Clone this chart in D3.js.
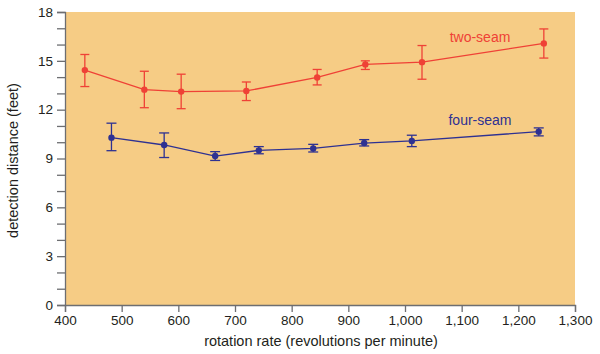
<!DOCTYPE html>
<html>
<head>
<meta charset="utf-8">
<script src="https://cdn.jsdelivr.net/npm/d3@7"></script>
<style>
  body { margin: 0; background: #fff; }
  text { font-family: "Liberation Sans", Arial, sans-serif; }
</style>
</head>
<body>
<div id="chart"></div>
<script>
// data
let twoSeamRpm  = [435, 540, 605, 720, 845, 930, 1030, 1245];
let twoSeamDist = [14.43, 13.23, 13.11, 13.15, 13.98, 14.78, 14.92, 16.07];
let twoSeamLow  = [13.42, 12.12, 12.06, 12.56, 13.52, 14.47, 13.87, 15.17];
let twoSeamHigh = [15.39, 14.36, 14.18, 13.70, 14.47, 15.00, 15.94, 16.96];

let fourSeamRpm  = [482, 575, 665, 742, 838, 928, 1012, 1236];
let fourSeamDist = [10.28, 9.83, 9.15, 9.50, 9.62, 9.95, 10.08, 10.65];
let fourSeamLow  = [9.48, 9.06, 8.88, 9.29, 9.40, 9.77, 9.73, 10.39];
let fourSeamHigh = [11.17, 10.57, 9.42, 9.73, 9.87, 10.16, 10.43, 10.88];

let xTicks = [400, 500, 600, 700, 800, 900, 1000, 1100, 1200, 1300];
let yTicks = [0, 3, 6, 9, 12, 15, 18];

let svgWidth = 600, svgHeight = 354;
let plotLeft = 65, plotRight = 575, plotTop = 12, plotBottom = 305;

let xScale = d3.scaleLinear().domain([400, 1300]).range([plotLeft, plotRight]);
let yScale = d3.scaleLinear().domain([0, 18]).range([plotBottom, plotTop]);

let svg = d3.select("#chart").append("svg")
  .attr("width", svgWidth)
  .attr("height", svgHeight);

// plot background
svg.append("rect")
  .attr("x", plotLeft).attr("y", plotTop)
  .attr("width", plotRight - plotLeft).attr("height", plotBottom - plotTop)
  .attr("fill", "#f6cc85");

let axisColor = "#6d6e71";

// y axis: major ticks every 3, minor every 1
let yAxis = svg.append("g")
  .attr("transform", "translate(" + plotLeft + ",0)")
  .call(d3.axisLeft(yScale).tickValues(d3.range(0, 19, 1))
    .tickSize(8).tickFormat(d => yTicks.includes(d) ? d : ""));
yAxis.select(".domain").attr("stroke", axisColor).attr("stroke-width", 1.3);
yAxis.selectAll(".tick line").attr("stroke", axisColor).attr("stroke-width", 1.3);
yAxis.selectAll(".tick text")
  .attr("font-size", 13.5).attr("fill", "#231f20")
  .attr("font-family", "Liberation Sans, Arial, sans-serif")
  .attr("x", -12);

let xAxis = svg.append("g")
  .attr("transform", "translate(0," + plotBottom + ")")
  .call(d3.axisBottom(xScale).tickValues(xTicks).tickSize(7)
    .tickFormat(d3.format(",")));
xAxis.select(".domain").attr("stroke", axisColor).attr("stroke-width", 1.3);
xAxis.selectAll(".tick line").attr("stroke", axisColor).attr("stroke-width", 1.3);
xAxis.selectAll(".tick text")
  .attr("font-size", 13.5).attr("fill", "#231f20")
  .attr("font-family", "Liberation Sans, Arial, sans-serif")
  .attr("y", 10);

// axis titles
svg.append("text")
  .attr("x", (plotLeft + plotRight) / 2 + 1).attr("y", 346)
  .attr("text-anchor", "middle")
  .attr("font-size", 14.5).attr("fill", "#231f20")
  .text("rotation rate (revolutions per minute)");

svg.append("text")
  .attr("transform", "translate(18," + ((plotTop + plotBottom) / 2 + 2) + ") rotate(-90)")
  .attr("text-anchor", "middle")
  .attr("font-size", 14.5).attr("fill", "#231f20")
  .text("detection distance (feet)");

function drawSeries(rpm, dist, low, high, color, capHalf) {
  let pts = rpm.map((r, i) => ({ x: r, y: dist[i], lo: low[i], hi: high[i] }));
  let g = svg.append("g");

  g.append("path")
    .datum(pts)
    .attr("fill", "none")
    .attr("stroke", color)
    .attr("stroke-width", 1.3)
    .attr("d", d3.line().x(d => xScale(d.x)).y(d => yScale(d.y)));

  let bars = g.selectAll(".err").data(pts).enter().append("g");
  bars.append("line")
    .attr("x1", d => xScale(d.x)).attr("x2", d => xScale(d.x))
    .attr("y1", d => yScale(d.lo)).attr("y2", d => yScale(d.hi));
  bars.append("line")
    .attr("x1", d => xScale(d.x) - capHalf).attr("x2", d => xScale(d.x) + capHalf)
    .attr("y1", d => yScale(d.hi)).attr("y2", d => yScale(d.hi));
  bars.append("line")
    .attr("x1", d => xScale(d.x) - capHalf).attr("x2", d => xScale(d.x) + capHalf)
    .attr("y1", d => yScale(d.lo)).attr("y2", d => yScale(d.lo));
  bars.selectAll("line").attr("stroke", color).attr("stroke-width", 1.3);

  g.selectAll("circle").data(pts).enter().append("circle")
    .attr("cx", d => xScale(d.x)).attr("cy", d => yScale(d.y))
    .attr("r", 3.2)
    .attr("fill", color);
}

drawSeries(twoSeamRpm, twoSeamDist, twoSeamLow, twoSeamHigh, "#ef4136", 4.5);
drawSeries(fourSeamRpm, fourSeamDist, fourSeamLow, fourSeamHigh, "#2e3192", 5);

// series labels
svg.append("text")
  .attr("x", 480).attr("y", 42)
  .attr("text-anchor", "middle")
  .attr("font-size", 14).attr("fill", "#ef4136")
  .text("two-seam");
svg.append("text")
  .attr("x", 480).attr("y", 125)
  .attr("text-anchor", "middle")
  .attr("font-size", 14).attr("fill", "#2e3192")
  .text("four-seam");
</script>
</body>
</html>
